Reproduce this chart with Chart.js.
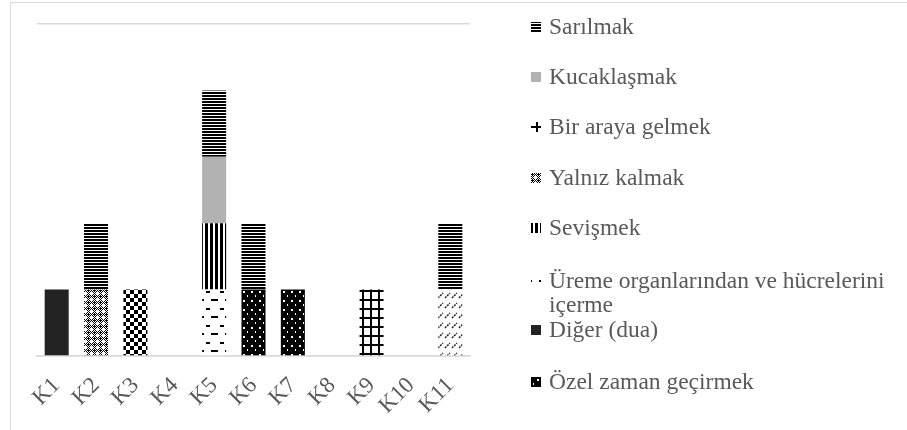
<!DOCTYPE html>
<html>
<head>
<meta charset="utf-8">
<script src="https://cdn.jsdelivr.net/npm/chart.js@4"></script>
<style>
    html, body { margin: 0; padding: 0; background: #fff; }
    #wrap { position: relative; width: 907px; height: 430px; overflow: hidden; }
    #frame { position: absolute; left: 10px; top: 2px; width: 900px; height: 440px;
             border-left: 1.5px solid #d9d9d9; border-top: 1.5px solid #d9d9d9; }
    #cv { position: absolute; left: 10px; top: 2px; }
    #lgc { position: absolute; left: 520px; top: 0; }
</style>
</head>
<body>
<div id="wrap">
    <div id="frame"></div>
    <canvas id="cv" width="470" height="428"></canvas>
    <canvas id="lgc" width="387" height="430"></canvas>
</div>
<script>
// ===== Data =====
const CATEGORIES = ['K1', 'K2', 'K3', 'K4', 'K5', 'K6', 'K7', 'K8', 'K9', 'K10', 'K11'];

const SARILMAK    = [0, 1, 0, 0, 1, 1, 0, 0, 0, 0, 1];
const KUCAKLASMAK = [0, 0, 0, 0, 1, 0, 0, 0, 0, 0, 0];
const BIR_ARAYA   = [0, 0, 0, 0, 0, 0, 0, 0, 1, 0, 0];
const YALNIZ      = [0, 1, 0, 0, 0, 0, 0, 0, 0, 0, 0];
const SEVISMEK    = [0, 0, 0, 0, 1, 0, 0, 0, 0, 0, 0];
const UREME       = [0, 0, 0, 0, 1, 0, 0, 0, 0, 0, 0];
const DIGER       = [1, 0, 0, 0, 0, 0, 0, 0, 0, 0, 0];
const OZEL        = [0, 0, 0, 0, 0, 1, 1, 0, 0, 0, 0];
// series whose legend entries fall outside the picture
const SERI_A      = [0, 0, 1, 0, 0, 0, 0, 0, 0, 0, 0];
const SERI_B      = [0, 0, 0, 0, 0, 0, 0, 0, 0, 0, 1];

const Y_MAX = 5;
const SERIF = '"Liberation Serif", "Times New Roman", serif';

// ===== Pattern tiles =====
function tile(w, h, bg, draw) {
    const c = document.createElement('canvas');
    c.width = w; c.height = h;
    const x = c.getContext('2d');
    x.fillStyle = bg; x.fillRect(0, 0, w, h);
    x.fillStyle = '#000';
    draw(x);
    return c;
}

const TILES = {
    sarilmak: tile(4, 3, '#fff', x => x.fillRect(0, 0, 4, 2)),
    kucak: tile(4, 4, '#b2b2b2', () => {}),
    birAraya: tile(8, 9, '#fff', x => { x.fillRect(0, 0, 2, 9); x.fillRect(0, 0, 8, 2); }),
    yalniz: tile(6, 6, '#fff', x => {
        for (let i = 0; i < 6; i++) for (let j = 0; j < 6; j++) if ((i + j) % 2) x.fillRect(i, j, 1, 1);
        x.fillRect(0, 0, 1, 1);
        x.fillStyle = '#fff';
        [[3, 2], [2, 3], [3, 4], [4, 3]].forEach(p => x.fillRect(p[0], p[1], 1, 1));
    }),
    sevismek: tile(5, 4, '#fff', x => x.fillRect(0, 0, 3, 4)),
    ureme: tile(14, 17, '#fff', x => { x.fillRect(0, 0, 4, 2); x.fillRect(5, 8, 7, 2); }),
    diger: tile(4, 4, '#222', () => {}),
    ozel: tile(8, 9, '#000', x => { x.fillStyle = '#fff'; x.fillRect(1, 1, 2, 2); x.fillRect(5, 5, 1, 2); }),
    checker: tile(8, 8, '#fff', x => { x.fillRect(0, 0, 4, 4); x.fillRect(4, 4, 4, 4); }),
    diag: tile(7, 10, '#fff', x => {
        x.strokeStyle = '#222'; x.lineWidth = 1.5; x.setLineDash([2, 1]);
        x.beginPath(); x.moveTo(1, 6); x.lineTo(6, 1); x.stroke();
    })
};

const ctx = document.getElementById('cv').getContext('2d');
const pat = k => ctx.createPattern(TILES[k], 'repeat');

// stacking order: first dataset sits at the bottom
const SERIES = [
    { label: '', data: SERI_B, tile: 'diag' },
    { label: '', data: SERI_A, tile: 'checker' },
    { label: 'Özel zaman geçirmek', data: OZEL, tile: 'ozel' },
    { label: 'Diğer (dua)', data: DIGER, tile: 'diger' },
    { label: 'Üreme organlarından ve hücrelerini içerme', data: UREME, tile: 'ureme' },
    { label: 'Sevişmek', data: SEVISMEK, tile: 'sevismek' },
    { label: 'Yalnız kalmak', data: YALNIZ, tile: 'yalniz' },
    { label: 'Bir araya gelmek', data: BIR_ARAYA, tile: 'birAraya' },
    { label: 'Kucaklaşmak', data: KUCAKLASMAK, tile: 'kucak' },
    { label: 'Sarılmak', data: SARILMAK, tile: 'sarilmak' }
];

new Chart(ctx, {
    type: 'bar',
    data: {
        labels: CATEGORIES,
        datasets: SERIES.map(s => ({
            label: s.label, data: s.data,
            backgroundColor: pat(s.tile), borderWidth: 0,
            barPercentage: 0.61, categoryPercentage: 1
        }))
    },
    options: {
        responsive: false, animation: false,
        layout: { padding: { left: 27, right: 10, top: 22, bottom: 0 } },
        scales: {
            x: {
                stacked: true,
                grid: { display: false },
                border: { color: '#d9d9d9', width: 1.5 },
                ticks: { autoSkip: false, minRotation: 45, maxRotation: 45, padding: 8, color: '#595959',
                         font: { family: SERIF, size: 23 } },
                afterFit: s => { s.height = 74; }
            },
            y: {
                stacked: true, min: 0, max: Y_MAX,
                grid: { color: '#d9d9d9', lineWidth: 1.5, drawTicks: false },
                border: { display: false },
                ticks: { display: false, stepSize: Y_MAX },
                afterFit: s => { s.width = 0; }
            }
        },
        plugins: { legend: { display: false }, tooltip: { enabled: false } }
    }
});

// ===== Legend (right side, top to bottom) =====
const LEGEND = [
    { text: ['Sarılmak'], tile: 'sarilmak', y: 27 },
    { text: ['Kucaklaşmak'], tile: 'kucak', y: 77 },
    { text: ['Bir araya gelmek'], tile: 'birAraya', y: 127 },
    { text: ['Yalnız kalmak'], tile: 'yalniz', y: 178 },
    { text: ['Sevişmek'], tile: 'sevismek', y: 228 },
    { text: ['Üreme organlarından ve hücrelerini', 'içerme'], tile: 'ureme', y: 281 },
    { text: ['Diğer (dua)'], tile: 'diger', y: 330 },
    { text: ['Özel zaman geçirmek'], tile: 'ozel', y: 382 }
];
const lx = document.getElementById('lgc').getContext('2d');
lx.font = '23.5px ' + SERIF;
lx.textBaseline = 'middle';
LEGEND.forEach(it => {
    lx.fillStyle = lx.createPattern(TILES[it.tile], 'repeat');
    lx.fillRect(11, it.y - 5, 10, 10);
    lx.fillStyle = '#595959';
    it.text.forEach((line, i) => lx.fillText(line, 29, it.y + 1 + i * 24));
});
</script>
</body>
</html>
